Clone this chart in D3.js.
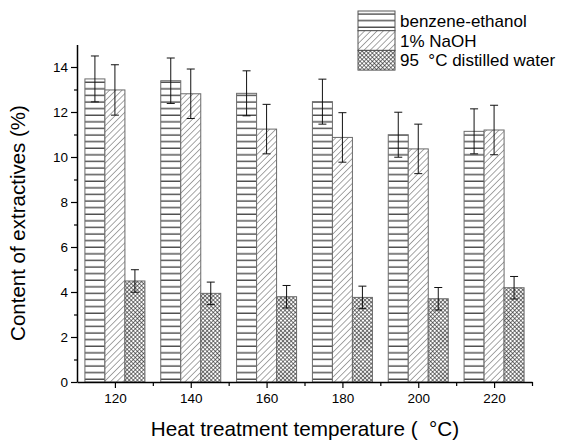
<!DOCTYPE html>
<html>
<head>
<meta charset="utf-8">
<script src="https://cdn.jsdelivr.net/npm/d3@7"></script>
<style>
  html, body { margin: 0; padding: 0; background: #fff; }
  svg { display: block; }
  text { font-family: "Liberation Sans", Arial, sans-serif; fill: #000; white-space: pre; }
</style>
</head>
<body>
<svg id="chart" width="562" height="442"></svg>
<script>
// Heat treatment temperatures (°C)
const temperatures = [120, 140, 160, 180, 200, 220];
// Extractive content (%) by solvent
const benzeneEthanol = [13.47, 13.39, 12.83, 12.46, 10.99, 11.14];
const naoh = [12.98, 12.81, 11.24, 10.87, 10.36, 11.20];
const hotWater = [4.49, 3.94, 3.79, 3.76, 3.70, 4.19];
// Standard deviations
const benzeneEthanolErr = [1.02, 1.01, 1.0, 1.0, 1.0, 1.0];
const naohErr = [1.12, 1.1, 1.1, 1.1, 1.1, 1.1];
const hotWaterErr = [0.5, 0.5, 0.5, 0.5, 0.5, 0.5];
const seriesNames = ["benzene-ethanol", "1% NaOH", "95  °C distilled water"];
const yTicks = [0, 2, 4, 6, 8, 10, 12, 14];
const xTicks = [120, 140, 160, 180, 200, 220];

const series = [
  { name: seriesNames[0], values: benzeneEthanol, err: benzeneEthanolErr, fill: "url(#hlines)" },
  { name: seriesNames[1], values: naoh, err: naohErr, fill: "url(#diag)" },
  { name: seriesNames[2], values: hotWater, err: hotWaterErr, fill: "url(#cross)" }
];

const svg = d3.select("#chart");
const defs = svg.append("defs");

// Horizontal line fill
const ph = defs.append("pattern").attr("id", "hlines").attr("patternUnits", "userSpaceOnUse")
  .attr("width", 8).attr("height", 6.6);
ph.append("rect").attr("width", 8).attr("height", 6.6).attr("fill", "#fff");
ph.append("line").attr("x1", 0).attr("x2", 8).attr("y1", 3).attr("y2", 3)
  .attr("stroke", "#1a1a1a").attr("stroke-width", 1.1);

// Diagonal hatch fill
const pd = defs.append("pattern").attr("id", "diag").attr("patternUnits", "userSpaceOnUse")
  .attr("width", 4.4).attr("height", 4.4).attr("patternTransform", "rotate(45)");
pd.append("rect").attr("width", 4.4).attr("height", 4.4).attr("fill", "#fff");
pd.append("line").attr("x1", 0).attr("x2", 0).attr("y1", 0).attr("y2", 4.4)
  .attr("stroke", "#3a3a3a").attr("stroke-width", 0.9);

// Cross hatch fill
const pc = defs.append("pattern").attr("id", "cross").attr("patternUnits", "userSpaceOnUse")
  .attr("width", 2.9).attr("height", 2.9).attr("patternTransform", "rotate(45)");
pc.append("rect").attr("width", 2.9).attr("height", 2.9).attr("fill", "#fff");
pc.append("line").attr("x1", 0).attr("x2", 2.9).attr("y1", 0).attr("y2", 0)
  .attr("stroke", "#222").attr("stroke-width", 1.2);
pc.append("line").attr("x1", 0).attr("x2", 0).attr("y1", 0).attr("y2", 2.9)
  .attr("stroke", "#222").attr("stroke-width", 1.2);

const x = d3.scaleLinear().domain([110, 230]).range([77, 532]);
const y = d3.scaleLinear().domain([0, 15]).range([382, 44.5]);
const barW = 20;

// Bars
series.forEach((s, si) => {
  const g = svg.append("g");
  g.selectAll("rect").data(temperatures).join("rect")
    .attr("x", (t) => x(t) - 30 + si * barW)
    .attr("y", (t, i) => y(s.values[i]))
    .attr("width", barW)
    .attr("height", (t, i) => y(0) - y(s.values[i]))
    .attr("fill", s.fill)
    .attr("stroke", "#6a6a6a")
    .attr("stroke-width", 1);
});

// Error bars
series.forEach((s, si) => {
  const g = svg.append("g").attr("stroke", "#111").attr("stroke-width", 1);
  temperatures.forEach((t, i) => {
    const cx = x(t) - 20 + si * barW;
    const yt = y(s.values[i] + s.err[i]);
    const yb = y(s.values[i] - s.err[i]);
    g.append("line").attr("x1", cx).attr("x2", cx).attr("y1", yt).attr("y2", yb);
    g.append("line").attr("x1", cx - 4).attr("x2", cx + 4).attr("y1", yt).attr("y2", yt);
    g.append("line").attr("x1", cx - 4).attr("x2", cx + 4).attr("y1", yb).attr("y2", yb);
  });
});

// Y axis
svg.append("g").attr("transform", "translate(77,0)")
  .call(d3.axisLeft(y).tickValues(yTicks).tickSize(6).tickPadding(3).tickSizeOuter(0));
svg.append("g").attr("transform", "translate(77,0)")
  .call(d3.axisLeft(y).tickValues(d3.range(1, 15, 2)).tickSize(3).tickFormat("").tickSizeOuter(0))
  .select(".domain").remove();

// X axis
svg.append("g").attr("transform", "translate(0,382)")
  .call(d3.axisBottom(x).tickValues(xTicks).tickSize(6).tickPadding(5).tickFormat(d3.format("d")).tickSizeOuter(0));
svg.append("g").attr("transform", "translate(0,382)")
  .call(d3.axisBottom(x).tickValues(d3.range(130, 231, 20)).tickSize(4).tickFormat("").tickSizeOuter(0))
  .select(".domain").remove();

svg.selectAll(".domain").attr("stroke", "#000").attr("stroke-width", 1.5);
svg.selectAll(".tick line").attr("stroke", "#000").attr("stroke-width", 1.2);
svg.selectAll(".tick text").attr("font-size", 13.5).attr("font-family", "Liberation Sans, Arial, sans-serif");

// Axis titles
svg.append("text")
  .attr("transform", "translate(25,223) rotate(-90)")
  .attr("text-anchor", "middle")
  .attr("font-size", 20.5)
  .text("Content of extractives (%)");

svg.append("text")
  .attr("x", 305).attr("y", 436)
  .attr("text-anchor", "middle")
  .attr("font-size", 20.7)
  .text("Heat treatment temperature (  °C)");

// Legend
const legend = svg.append("g").attr("transform", "translate(358,11)");
series.forEach((s, i) => {
  const row = legend.append("g").attr("transform", `translate(0,${i * 19.7})`);
  row.append("rect").attr("width", 37).attr("height", 19.7)
    .attr("fill", s.fill).attr("stroke", "#555").attr("stroke-width", 1);
  row.append("text").attr("x", 42).attr("y", 16).attr("font-size", 17).text(s.name);
});
</script>
</body>
</html>
